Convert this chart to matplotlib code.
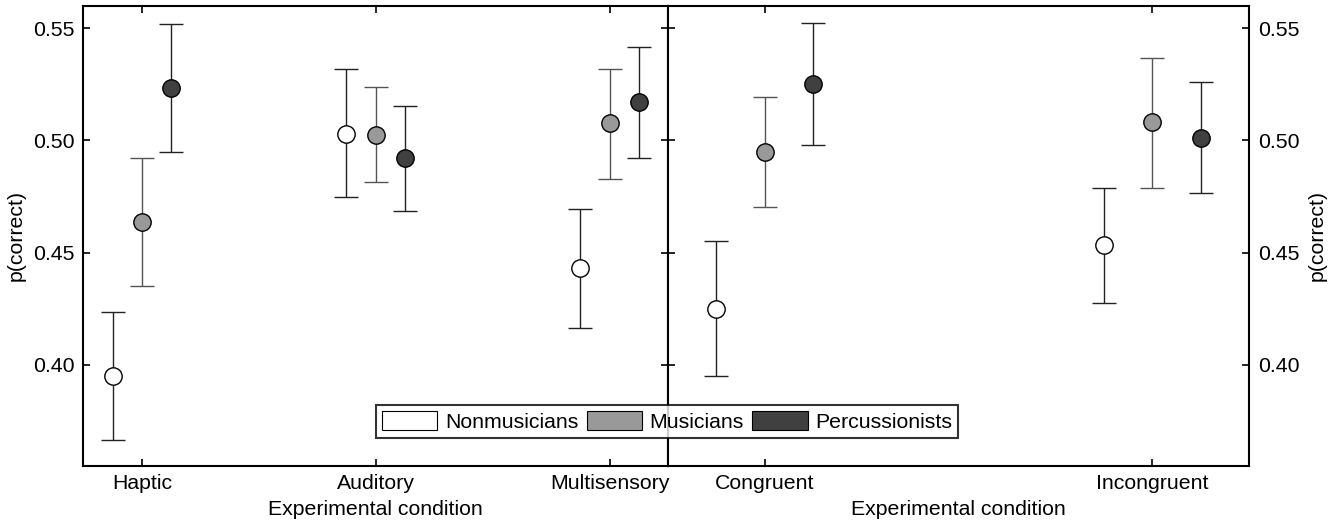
import numpy as np
import matplotlib.pyplot as plt
from matplotlib.patches import Patch

plt.rcParams['font.family'] = ['Liberation Sans', 'DejaVu Sans']
plt.rcParams['font.size'] = 15.3

groups = ['Nonmusicians', 'Musicians', 'Percussionists']

# left panel: modality
cond_a = ['Haptic', 'Auditory', 'Multisensory']
mean_a = [[0.395, 0.503, 0.443],
          [0.4635, 0.5025, 0.5075],
          [0.5235, 0.492, 0.517]]
low_a = [[0.3663, 0.4748, 0.4162],
         [0.4349, 0.4816, 0.4829],
         [0.4948, 0.4684, 0.4921]]
high_a = [[0.4233, 0.5319, 0.4696],
          [0.4923, 0.5237, 0.5319],
          [0.5519, 0.5154, 0.5417]]

# right panel: congruency
cond_b = ['Congruent', 'Incongruent']
mean_b = [[0.425, 0.4533],
          [0.4947, 0.508],
          [0.5252, 0.5012]]
low_b = [[0.3948, 0.4274],
         [0.4702, 0.4786],
         [0.4979, 0.4767]]
high_b = [[0.455, 0.4789],
          [0.5191, 0.5369],
          [0.5525, 0.5258]]

face = ['white', '#999999', '#404040']
ecol = ['#222222', '#555555', '#222222']
offs = [-0.125, 0, 0.125]

fig = plt.figure(figsize=(13.36, 5.21), dpi=100)
ax1 = fig.add_axes([0.0624, 0.1061, 0.4376, 0.883])
ax2 = fig.add_axes([0.5, 0.1061, 0.4351, 0.883])


def panel(ax, conds, mean, low, high):
    x = np.arange(1, len(conds) + 1)
    for g in range(3):
        m = np.array(mean[g])
        yerr = [m - np.array(low[g]), np.array(high[g]) - m]
        ax.errorbar(x + offs[g], m, yerr=yerr, fmt='o', ms=12.5, mfc=face[g],
                    mec='black', mew=1, ecolor=ecol[g], elinewidth=1,
                    capsize=8.5, capthick=1, zorder=3)
    ax.set_xticks(x)
    ax.set_xticklabels(conds)
    ax.set_xlim(0.75, len(conds) + 0.25)
    ax.set_ylim(0.355, 0.56)
    ax.set_yticks([0.40, 0.45, 0.50, 0.55])
    ax.set_yticklabels(['0.40', '0.45', '0.50', '0.55'])
    ax.set_xlabel('Experimental condition', labelpad=5)
    ax.set_ylabel('p(correct)', labelpad=6)
    ax.tick_params(direction='in', length=5, width=1.2, top=True, right=True,
                   left=True, pad=6)
    for s in ax.spines.values():
        s.set_linewidth(1.5)


panel(ax1, cond_a, mean_a, low_a, high_a)
panel(ax2, cond_b, mean_b, low_b, high_b)
ax2.yaxis.tick_right()
ax2.yaxis.set_label_position('right')
ax2.tick_params(left=True, right=True, labelleft=False, labelright=True)

handles = [Patch(facecolor=face[g], edgecolor='black', lw=0.8, label=groups[g])
           for g in range(3)]
leg = fig.legend(handles=handles, loc='center', bbox_to_anchor=(0.4993, 0.191),
                 ncol=3, frameon=True, fancybox=False, handlelength=2.6,
                 handleheight=1.0, handletextpad=0.35, columnspacing=0.4,
                 borderpad=0.3, borderaxespad=0)
leg.get_frame().set_edgecolor('black')
leg.get_frame().set_linewidth(1.5)

fig.savefig('out.png', dpi=100)
